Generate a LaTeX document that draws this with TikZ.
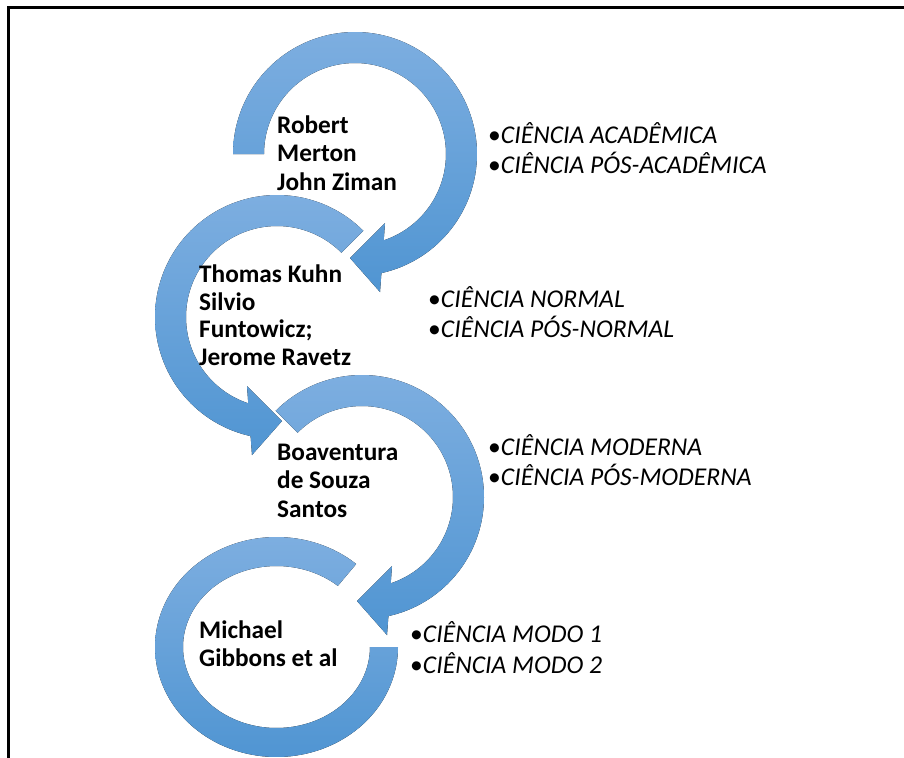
\documentclass[tikz,border=0pt]{standalone}
\usepackage{fontspec}
\setmainfont{Carlito}
\definecolor{ringtop}{RGB}{125,174,224}
\definecolor{ringbot}{RGB}{80,149,210}
\tikzset{
  ringshade/.style={top color=ringtop, bottom color=ringbot},
  namefont/.style={font=\fontsize{25.3}{28.3}\selectfont\bfseries, anchor=base west, inner sep=0pt},
  itemfont/.style={font=\fontsize{25.6}{30}\selectfont, anchor=base west, inner sep=0pt},
  framestyle/.style={line width=2.4pt, line cap=rect},
  pics/cwarrow/.style={code={
    \fill[ringshade] plot[domain=#1:437.5, samples=100] ({122*cos(\x)},{122*sin(\x)})
      -- (25,138) -- (-5,104) -- (30,69)
      -- plot[domain=431.6:#1, samples=100] ({91*cos(\x)},{91*sin(\x)}) -- cycle;
  }},
}
\newcommand{\itm}[1]{\textbullet{\itshape #1}}
\begin{document}
\begin{tikzpicture}[x=1pt,y=-1pt]
\useasboundingbox (0,0) rectangle (904,757);
% frame
\coordinate (fbl) at (8.5,757);
\coordinate (ftl) at (8.5,7.5);
\coordinate (ftr) at (904,7.5);
\draw[framestyle] (fbl) -- (ftl) -- (ftr);
% arcs
\pic at (355,154) {cwarrow=180};
\pic[xscale=-1] at (277,317) {cwarrow=225};
\pic at (362,497) {cwarrow=225};
\fill[ringshade] plot[domain=0:311, samples=120] ({276.5+121.5*cos(\x)},{647+110*sin(\x)})
  -- plot[domain=311:0, samples=120] ({276.5+93.5*cos(\x)},{647+81*sin(\x)}) -- cycle;
% names
\node[namefont] (n1a) at (277,133) {Robert};
\node[namefont] (n1b) at (277,161.5) {Merton};
\node[namefont] (n1c) at (277,190) {John Ziman};
\node[namefont] (n2a) at (199,282) {Thomas Kuhn};
\node[namefont] (n2b) at (199,310) {Silvio};
\node[namefont] (n2c) at (199,337.5) {Funtowicz;};
\node[namefont] (n2d) at (199,365) {Jerome Ravetz};
\node[namefont] (n3a) at (277,460) {Boaventura};
\node[namefont] (n3b) at (277,488.5) {de Souza};
\node[namefont] (n3c) at (277,517) {Santos};
\node[namefont] (n4a) at (199,638) {Michael};
\node[namefont] (n4b) at (199,666) {Gibbons et al};
% items
\node[itemfont] (i1a) at (488,143) {\itm{CIÊNCIA ACADÊMICA}};
\node[itemfont] (i1b) at (488,173) {\itm{CIÊNCIA PÓS-ACADÊMICA}};
\node[itemfont] (i2a) at (428,307) {\itm{CIÊNCIA NORMAL}};
\node[itemfont] (i2b) at (428,337) {\itm{CIÊNCIA PÓS-NORMAL}};
\node[itemfont] (i3a) at (488,455) {\itm{CIÊNCIA MODERNA}};
\node[itemfont] (i3b) at (488,485) {\itm{CIÊNCIA PÓS-MODERNA}};
\node[itemfont] (i4a) at (410,642) {\itm{CIÊNCIA MODO 1}};
\node[itemfont] (i4b) at (410,673) {\itm{CIÊNCIA MODO 2}};
\end{tikzpicture}
\end{document}
